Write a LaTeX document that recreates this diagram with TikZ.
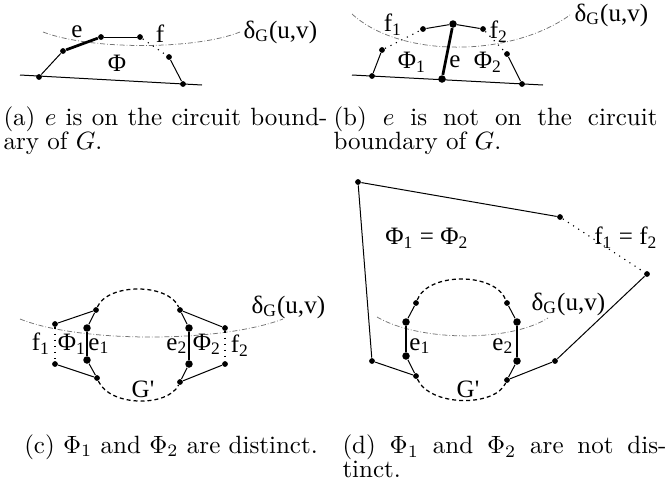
\documentclass[tikz,border=0pt]{standalone}
\usepackage{fontspec}
\newfontfamily\figfont{Liberation Serif}

\begin{document}
\begin{tikzpicture}[
  x=0.4pt, y=-0.4pt,
  vtx/.style={circle, fill, inner sep=0pt, minimum size=2.3pt},
  bigvtx/.style={circle, fill, inner sep=0pt, minimum size=3pt},
  edge/.style={line width=0.4pt},
  boldedge/.style={line width=1.1pt},
  dualedge/.style={line width=0.45pt, dotted},
  gpart/.style={line width=0.5pt, dash pattern=on 1.6pt off 1.2pt},
  cutline/.style={line width=0.3pt, black!55, dash pattern=on 2pt off 0.8pt on 0.3pt off 0.8pt},
  lbl/.style={font=\figfont\fontsize{10}{11}\selectfont, inner sep=0pt},
  subcap/.style={font=\fontsize{10}{9.6}\selectfont, inner sep=0pt, text width=129.6pt, align=justify}
]
  \useasboundingbox (0,0) rectangle (665,481);

  % (a)
  \draw[cutline] (43,32) .. controls (90,50) and (195,50) .. (240,32);
  \node[lbl, anchor=west] (cutA) at (243,32) {δ\textsubscript{G}(u,v)};
  \node[vtx] (a1) at (39,77) {};
  \node[vtx] (a2) at (63,51) {};
  \node[vtx] (a3) at (101,37) {};
  \node[vtx] (a4) at (140,37) {};
  \node[vtx] (a5) at (169,57) {};
  \node[vtx] (a6) at (183,84) {};
  \coordinate (aL) at (20,75);
  \coordinate (aR) at (202,85);
  \draw[edge] (aL) -- (aR);
  \draw[edge] (a1) -- (a2);
  \draw[boldedge] (a2) -- (a3);
  \draw[edge] (a3) -- (a4);
  \draw[dualedge] (a4) -- (a5);
  \draw[edge] (a5) -- (a6);
  \node[lbl] (eA) at (77,32) {e};
  \node[lbl] (fA) at (160,34) {f};
  \node[lbl] (phiA) at (117,63) {Φ};

  % (b)
  \draw[cutline] (352,14) .. controls (400,58) and (510,58) .. (570,15);
  \node[lbl, anchor=west] (cutB) at (574,15) {δ\textsubscript{G}(u,v)};
  \node[vtx] (b1) at (372,76) {};
  \node[vtx] (b2) at (382,50) {};
  \node[vtx] (b3) at (423,29) {};
  \node[bigvtx] (b4) at (453,24) {};
  \node[vtx] (b5) at (483,29) {};
  \node[vtx] (b6) at (507,54) {};
  \node[vtx] (b7) at (522,84) {};
  \node[bigvtx] (b8) at (442,79) {};
  \coordinate (bL) at (352,75);
  \coordinate (bR) at (543,85);
  \draw[edge] (bL) -- (bR);
  \draw[edge] (b1) -- (b2);
  \draw[dualedge] (b2) -- (b3);
  \draw[edge] (b3) -- (b4);
  \draw[edge] (b4) -- (b5);
  \draw[dualedge] (b5) -- (b6);
  \draw[edge] (b6) -- (b7);
  \draw[boldedge] (b4) -- (b8);
  \node[lbl] (f1B) at (393,25) {f\textsubscript{1}};
  \node[lbl] (f2B) at (499,32) {f\textsubscript{2}};
  \node[lbl] (phi1B) at (412,62) {Φ\textsubscript{1}};
  \node[lbl] (eB) at (455,62) {e};
  \node[lbl] (phi2B) at (488,62) {Φ\textsubscript{2}};

  % (c)
  \draw[cutline] (20,319) .. controls (80,343) and (220,343) .. (283,319);
  \node[lbl, anchor=west] (cutC) at (251,307) {δ\textsubscript{G}(u,v)};
  \node[vtx] (c1) at (55,324) {};
  \node[vtx] (c2) at (96,310) {};
  \node[bigvtx] (c3) at (87,328) {};
  \node[bigvtx] (c4) at (87,360) {};
  \node[vtx] (c5) at (55,364) {};
  \node[vtx] (c6) at (97,378) {};
  \node[vtx] (c7) at (180,382) {};
  \node[bigvtx] (c8) at (189,364) {};
  \node[bigvtx] (c9) at (189,328) {};
  \node[vtx] (c10) at (180,310) {};
  \node[vtx] (c11) at (225,328) {};
  \node[vtx] (c12) at (225,364) {};
  \draw[gpart] (c2) .. controls (108,283) and (168,283) .. (c10);
  \draw[gpart] (c6) .. controls (110,407) and (168,407) .. (c7);
  \draw[edge] (c1) -- (c2);
  \draw[edge] (c2) -- (c3);
  \draw[boldedge] (c3) -- (c4);
  \draw[edge] (c4) -- (c6);
  \draw[edge] (c5) -- (c6);
  \draw[dualedge] (c1) -- (c5);
  \draw[edge] (c10) -- (c11);
  \draw[edge] (c10) -- (c9);
  \draw[boldedge] (c9) -- (c8);
  \draw[edge] (c8) -- (c7);
  \draw[edge] (c12) -- (c7);
  \draw[dualedge] (c11) -- (c12);
  \node[lbl] (f1C) at (41,344) {f\textsubscript{1}};
  \node[lbl] (phi1C) at (72,344) {Φ\textsubscript{1}};
  \node[lbl] (e1C) at (99,346) {e\textsubscript{1}};
  \node[lbl] (e2C) at (177,346) {e\textsubscript{2}};
  \node[lbl] (phi2C) at (207,344) {Φ\textsubscript{2}};
  \node[lbl] (f2C) at (240,346) {f\textsubscript{2}};
  \node[lbl] (gC) at (143,389) {G'};

  % (d)
  \draw[cutline] (377,317) .. controls (420,342) and (510,342) .. (548,318);
  \node[lbl, anchor=west] (cutD) at (531,304) {δ\textsubscript{G}(u,v)};
  \node[vtx] (d1) at (358,182) {};
  \node[vtx] (d2) at (560,217) {};
  \node[vtx] (d3) at (647,274) {};
  \node[vtx] (d4) at (555,361) {};
  \node[vtx] (d5) at (372,361) {};
  \node[vtx] (d6) at (416,376) {};
  \node[bigvtx] (d7) at (406,356) {};
  \node[bigvtx] (d8) at (406,322) {};
  \node[vtx] (d9) at (416,303) {};
  \node[vtx] (d10) at (507,303) {};
  \node[bigvtx] (d11) at (517,322) {};
  \node[bigvtx] (d12) at (517,361) {};
  \node[vtx] (d13) at (507,380) {};
  \draw[gpart] (d9) .. controls (428,272) and (495,272) .. (d10);
  \draw[gpart] (d6) .. controls (430,407) and (495,407) .. (d13);
  \draw[edge] (d1) -- (d2);
  \draw[dualedge] (d2) -- (d3);
  \draw[edge] (d3) -- (d4);
  \draw[edge] (d1) -- (d5);
  \draw[edge] (d5) -- (d6);
  \draw[edge] (d6) -- (d7);
  \draw[boldedge] (d7) -- (d8);
  \draw[edge] (d8) -- (d9);
  \draw[edge] (d10) -- (d11);
  \draw[boldedge] (d11) -- (d12);
  \draw[edge] (d12) -- (d13);
  \draw[edge] (d13) -- (d4);
  \node[lbl] (phiD) at (427,238) {Φ\textsubscript{1} = Φ\textsubscript{2}};
  \node[lbl] (fD) at (626,238) {f\textsubscript{1} = f\textsubscript{2}};
  \node[lbl] (e1D) at (420,346) {e\textsubscript{1}};
  \node[lbl] (e2D) at (503,346) {e\textsubscript{2}};
  \node[lbl] (gD) at (468,389) {G'};

  % captions
  \node[subcap, anchor=north west] (capA) at (3,106) {(a) $e$ is on the circuit bound-\linebreak ary of $G$.};
  \node[subcap, anchor=north west] (capB) at (333,106) {(b) $e$ is not on the circuit\linebreak boundary of $G$.};
  \node[font=\fontsize{10}{9.6}\selectfont, inner sep=0pt, anchor=base] (capC) at (171,453) {(c) $\Phi_1$ and $\Phi_2$ are distinct.};
  \node[subcap, anchor=north west] (capD) at (342,434) {(d) $\Phi_1$ and $\Phi_2$ are not dis-\linebreak tinct.};
\end{tikzpicture}
\end{document}
